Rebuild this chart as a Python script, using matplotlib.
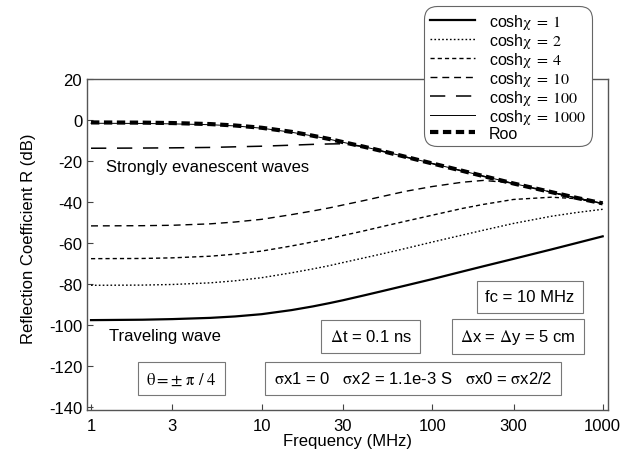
import numpy as np
import matplotlib.pyplot as plt

plt.rcParams['font.family'] = ['Liberation Sans', 'DejaVu Sans']
plt.rcParams['mathtext.fontset'] = 'stix'
plt.rcParams['mathtext.default'] = 'rm'
plt.rcParams['axes.unicode_minus'] = False

freq = [1, 2, 3, 5, 7, 10, 15, 20, 25, 30, 40, 50, 70, 100, 150, 200, 300, 500, 700, 1000]

# reflection coefficient in dB for each cosh(chi)
r_cosh1 = [-97.5, -97.3, -97.0, -96.4, -95.7, -94.6, -92.6, -90.8, -89.2, -87.8, -85.4,
           -83.5, -80.6, -77.5, -73.8, -71.2, -67.6, -63.0, -59.9, -56.6]
r_cosh2 = [-80.5, -80.4, -80.1, -79.3, -78.3, -76.8, -74.4, -72.5, -70.9, -69.4, -67.1,
           -65.3, -62.5, -59.4, -56.0, -53.6, -50.3, -46.8, -45.0, -43.4]
r_cosh4 = [-67.5, -67.4, -67.1, -66.3, -65.3, -63.8, -61.3, -59.3, -57.7, -56.2, -53.9,
           -52.0, -49.2, -46.3, -43.0, -41.0, -38.6, -37.5, -38.2, -40.6]
r_cosh10 = [-51.5, -51.4, -51.2, -50.5, -49.6, -48.3, -46.0, -44.2, -42.7, -41.3, -39.1,
            -37.3, -34.6, -32.3, -30.2, -29.3, -30.6, -35.1, -37.9, -40.6]
r_cosh100 = [-13.6, -13.5, -13.4, -13.2, -12.9, -12.6, -12.1, -11.7, -11.5, -11.4, -12.9,
             -14.9, -17.9, -21.1, -24.7, -27.3, -30.9, -35.1, -37.9, -40.6]
r_cosh1000 = [-1.4, -1.5, -1.7, -2.1, -2.7, -3.8, -5.8, -7.6, -9.2, -10.7, -12.9,
              -14.8, -17.8, -21.0, -24.6, -27.2, -30.8, -35.0, -37.8, -40.5]
r_roo = [-1.0, -1.1, -1.3, -1.8, -2.5, -3.6, -5.6, -7.5, -9.1, -10.6, -12.9,
         -14.8, -17.8, -21.0, -24.6, -27.2, -30.8, -35.0, -37.8, -40.5]

labels = [r'cosh$\chi\;=\;1$', r'cosh$\chi\;=\;2$', r'cosh$\chi\;=\;4$',
          r'cosh$\chi\;=\;10$', r'cosh$\chi\;=\;100$', r'cosh$\chi\;=\;1000$', 'Roo']

xticks = [1, 3, 10, 30, 100, 300, 1000]
yticks = [20, 0, -20, -40, -60, -80, -100, -120, -140]

fig = plt.figure(figsize=(6.35, 4.56), dpi=100)
ax = fig.add_axes([0.137, 0.099, 0.820, 0.726])

ax.plot(freq, r_cosh1, color='black', lw=1.6, label=labels[0])
ax.plot(freq, r_cosh2, color='black', lw=1.0, dashes=(1.2, 1.6), label=labels[1])
ax.plot(freq, r_cosh4, color='black', lw=1.0, dashes=(3, 2.2), label=labels[2])
ax.plot(freq, r_cosh10, color='black', lw=1.0, dashes=(5, 3.5), label=labels[3])
ax.plot(freq, r_cosh100, color='black', lw=1.1, dashes=(10, 7), label=labels[4])
ax.plot(freq, r_cosh1000, color='black', lw=0.7, label=labels[5])
ax.plot(freq, r_roo, color='black', lw=3.0, dashes=(2.0, 1.1), label=labels[6])

ax.set_xscale('log')
ax.set_xlim(0.947, 1070)
ax.set_ylim(-141.3, 20.3)
ax.set_xticks(xticks)
ax.set_xticklabels([str(t) for t in xticks])
ax.minorticks_off()
ax.set_yticks(yticks)
ax.tick_params(direction='in', length=4, width=0.8, color='#444444',
               labelsize=12, top=False, right=False)
ax.tick_params(axis='x', pad=6)
for s in ax.spines.values():
    s.set_color('#555555')
    s.set_linewidth(1.0)

ax.set_xlabel('Frequency (MHz)', fontsize=12, labelpad=0)
ax.set_ylabel('Reflection Coefficient R (dB)', fontsize=12)
ax.yaxis.set_label_coords(-0.098, 0.52)

ax.text(1.22, -22.3, 'Strongly evanescent waves', fontsize=12, va='center')
ax.text(1.275, -105, 'Traveling wave', fontsize=12, va='center')

box = dict(boxstyle='square,pad=0.5', facecolor='white', edgecolor='#777777', lw=0.8)
ax.text(0.850, 0.341, 'fc = 10 MHz', transform=ax.transAxes, fontsize=12,
        ha='center', va='center', bbox=box)
ax.text(0.545, 0.222, r'$\Delta$t = 0.1 ns', transform=ax.transAxes, fontsize=12,
        ha='center', va='center', bbox=box)
ax.text(0.827, 0.222, r'$\Delta$x = $\Delta$y = 5 cm', transform=ax.transAxes, fontsize=12,
        ha='center', va='center', bbox=box)
ax.text(0.181, 0.095, r'$\theta = \pm\ \pi\ /\ 4$', transform=ax.transAxes, fontsize=12,
        ha='center', va='center', bbox=box)
ax.text(0.626, 0.095, r'$\sigma$x1 = 0   $\sigma$x2 = 1.1e-3 S   $\sigma$x0 = $\sigma$x2/2',
        transform=ax.transAxes, fontsize=12, ha='center', va='center', bbox=box)

leg = ax.legend(loc='upper right', bbox_to_anchor=(592 / 635, 1 - 7 / 456),
                bbox_transform=fig.transFigure, fontsize=11.5, handlelength=2.8,
                handletextpad=0.9, labelspacing=0.0, borderpad=0.35,
                borderaxespad=0, fancybox=True, framealpha=1, edgecolor='#666666')
leg.get_frame().set_linewidth(0.8)
leg.get_frame().set_boxstyle('round', pad=0, rounding_size=0.8)
leg.set_zorder(10)

fig.savefig('out.png', dpi=100)
